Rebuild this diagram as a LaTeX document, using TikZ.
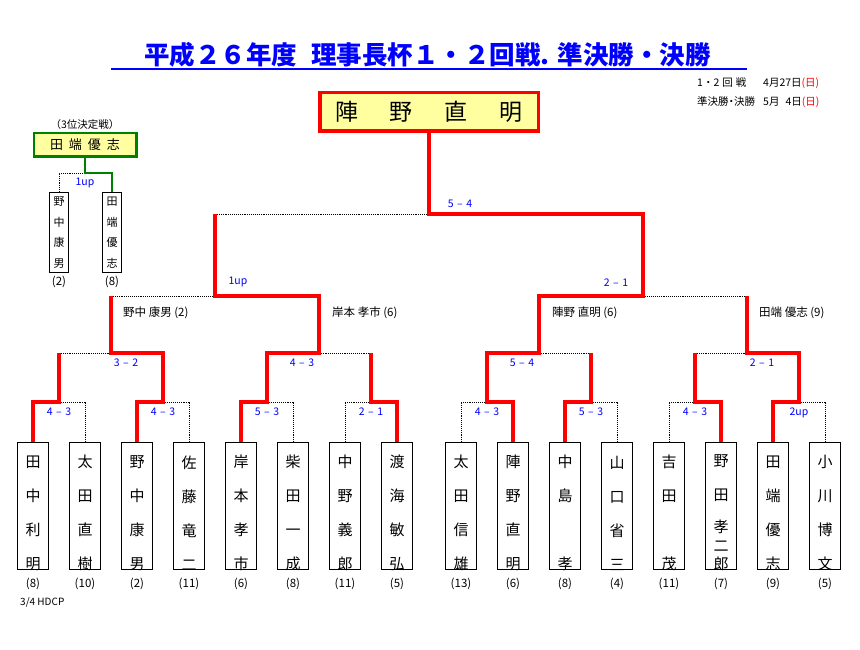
\documentclass[tikz,border=0pt]{standalone}
\usepackage{fontspec}
\setmainfont{Noto Sans CJK JP}
\usepackage{tikz}
\usetikzlibrary{positioning}

\definecolor{paley}{RGB}{255,255,160}
\definecolor{bgreen}{RGB}{0,128,0}
\definecolor{tblue}{RGB}{0,0,255}

\newcommand{\res}[2]{#1\hspace{3.5pt}--\hspace{3.5pt}#2}

\tikzset{
  basic/.style  = {draw, inner sep=0pt},
  pbox/.style   = {basic, line width=0.8pt, minimum width=31.2pt, minimum height=127.2pt},
  sbox/.style   = {basic, line width=0.8pt, minimum width=19.2pt, minimum height=80.2pt},
  pname/.style  = {font=\fontsize{15}{34}\selectfont, align=center, yshift=-7pt},
  sname/.style  = {font=\fontsize{11}{20.5}\selectfont, align=center},
  hc/.style     = {font=\fontsize{11.5}{13}\selectfont},
  win/.style    = {draw=red, line width=3.5pt},
  lose/.style   = {draw, densely dotted, line width=0.9pt},
  bronzeline/.style = {draw=bgreen, line width=2.5pt},
  score/.style  = {text=tblue, font=\fontsize{10.5}{12}\selectfont, inner sep=1pt},
  lname/.style  = {anchor=west, font=\fontsize{11.5}{13}\selectfont, inner sep=0pt},
  champ/.style  = {basic, draw=red, line width=3.5pt, fill=paley, minimum width=218.5pt,
                   minimum height=38.5pt, font=\fontsize{23}{26}\selectfont},
  bronze/.style = {basic, draw=bgreen, line width=2.5pt, fill=paley, minimum width=102.5pt,
                   minimum height=23.5pt, font=\fontsize{13}{16}\selectfont}
}

\begin{document}
\begin{tikzpicture}[x=1pt, y=-1pt]
\useasboundingbox (0,0) rectangle (860,650);

% title and dates
\node[text=tblue, font=\fontsize{25.5}{30}\selectfont\bfseries] (title) at (427.5,55)
  {平成２６年度\hspace{14pt}理事長杯１・２回戦.\hspace{8pt}準決勝・決勝};
\draw[tblue, line width=2pt] (111,69) -- (747,69);
\node[lname, font=\fontsize{10.5}{12}\selectfont] (d1) at (697,83)
  {\makebox[66pt][l]{1・2\hspace{3pt}回\hspace{3pt}戦}4月27日\textcolor{red}{(日)}};
\node[lname, font=\fontsize{10.5}{12}\selectfont] (d2) at (697,102)
  {\makebox[66pt][l]{準決勝\kern-2.5pt・\kern-2.5pt決勝}5月\hspace{6pt}4日\textcolor{red}{(日)}};

% champion and third place
\node[champ] (champ) at (429,112) {陣\hspace{32pt}野\hspace{32pt}直\hspace{32pt}明};
\node[bronze] (bronze) at (85,145) {田\hspace{6pt}端\hspace{6pt}優\hspace{6pt}志};
\node[above=1pt of bronze, font=\fontsize{10.5}{12}\selectfont, inner sep=1pt] (bt) {（3位決定戦）};

\node[sbox, label={[sname]center:{野\\中\\康\\男}}, label={[hc]below:(2)}] (t1) at (59,232.5) {};
\node[sbox, label={[sname]center:{田\\端\\優\\志}}, label={[hc]below:(8)}] (t2) at (112,232.5) {};
\coordinate (tm) at (85,173);

% the players, bottom row
\node[pbox, label={[pname]center:{田\\中\\利\\明}}, label={[hc,yshift=-5pt]below:(8)}] (p1) at (33,506) {};
\node[pbox, label={[pname]center:{太\\田\\直\\樹}}, label={[hc,yshift=-5pt]below:(10)}] (p2) at (85,506) {};
\node[pbox, label={[pname]center:{野\\中\\康\\男}}, label={[hc,yshift=-5pt]below:(2)}] (p3) at (137,506) {};
\node[pbox, label={[pname]center:{佐\\藤\\竜\\二}}, label={[hc,yshift=-5pt]below:(11)}] (p4) at (189,506) {};
\node[pbox, label={[pname]center:{岸\\本\\孝\\市}}, label={[hc,yshift=-5pt]below:(6)}] (p5) at (241,506) {};
\node[pbox, label={[pname]center:{柴\\田\\一\\成}}, label={[hc,yshift=-5pt]below:(8)}] (p6) at (293,506) {};
\node[pbox, label={[pname]center:{中\\野\\義\\郎}}, label={[hc,yshift=-5pt]below:(11)}] (p7) at (345,506) {};
\node[pbox, label={[pname]center:{渡\\海\\敏\\弘}}, label={[hc,yshift=-5pt]below:(5)}] (p8) at (397,506) {};
\node[pbox, label={[pname]center:{太\\田\\信\\雄}}, label={[hc,yshift=-5pt]below:(13)}] (p9) at (461,506) {};
\node[pbox, label={[pname]center:{陣\\野\\直\\明}}, label={[hc,yshift=-5pt]below:(6)}] (p10) at (513,506) {};
\node[pbox, label={[pname]center:{中\\島\\{}\\孝}}, label={[hc,yshift=-5pt]below:(8)}] (p11) at (565,506) {};
\node[pbox, label={[pname]center:{山\\口\\省\\三}}, label={[hc,yshift=-5pt]below:(4)}] (p12) at (617,506) {};
\node[pbox, label={[pname]center:{吉\\田\\{}\\茂}}, label={[hc,yshift=-5pt]below:(11)}] (p13) at (669,506) {};
\node[pbox, label={[pname]center:{野\\田\\[-2pt]孝\\[-15pt]二\\[-16pt]郎}}, label={[hc,yshift=-5pt]below:(7)}] (p14) at (721,506) {};
\node[pbox, label={[pname]center:{田\\端\\優\\志}}, label={[hc,yshift=-5pt]below:(9)}] (p15) at (773,506) {};
\node[pbox, label={[pname]center:{小\\川\\博\\文}}, label={[hc,yshift=-5pt]below:(5)}] (p16) at (825,506) {};
\node[lname, font=\fontsize{10}{12}\selectfont] (hdcp) at (20,602) {3/4 HDCP};

% meeting points of each round
\coordinate (m1) at (59,402);  \coordinate (m2) at (163,402);
\coordinate (m3) at (267,402); \coordinate (m4) at (371,402);
\coordinate (m5) at (487,402); \coordinate (m6) at (591,402);
\coordinate (m7) at (695,402); \coordinate (m8) at (799,402);
\coordinate (q1) at (111,353); \coordinate (q2) at (319,353);
\coordinate (q3) at (539,353); \coordinate (q4) at (747,353);
\coordinate (s1) at (215,296); \coordinate (s2) at (643,296);
\coordinate (fin) at (429,214);

% losers, dotted
\draw[lose] (p2.north) |- (m1);
\draw[lose] (p4.north) |- (m2);
\draw[lose] (p6.north) |- (m3);
\draw[lose] (p7.north) |- (m4);
\draw[lose] (p9.north) |- (m5);
\draw[lose] (p12.north) |- (m6);
\draw[lose] (p13.north) |- (m7);
\draw[lose] (p16.north) |- (m8);
\draw[lose] (m1 |- q1) -- (q1);
\draw[lose] (m4 |- q2) -- (q2);
\draw[lose] (m6 |- q3) -- (q3);
\draw[lose] (m7 |- q4) -- (q4);
\draw[lose] (q1 |- s1) -- (s1);
\draw[lose] (q4 |- s2) -- (s2);
\draw[lose] (s1 |- fin) -- (fin);
\draw[lose] (t1.north) |- (tm);

% winners, each path up to the round it lost
\draw[win] (p1.north) |- (m1) -- (m1 |- q1);
\draw[win] (p3.north) |- (m2) |- (q1) -- (q1 |- s1);
\draw[win] (p5.north) |- (m3) |- (q2) |- (s1) -- (s1 |- fin);
\draw[win] (p8.north) |- (m4) -- (m4 |- q2);
\draw[win] (p10.north) |- (m5) |- (q3) |- (s2) |- (fin) -- (champ.south);
\draw[win] (p11.north) |- (m6) -- (m6 |- q3);
\draw[win] (p14.north) |- (m7) -- (m7 |- q4);
\draw[win] (p15.north) |- (m8) |- (q4) -- (q4 |- s2);
\draw[bronzeline] (t2.north) |- (tm) -- (bronze.south);

% scores
\node[score, below=5pt of m1] {\res43};
\node[score, below=5pt of m2] {\res43};
\node[score, below=5pt of m3] {\res53};
\node[score, below=5pt of m4] {\res21};
\node[score, below=5pt of m5] {\res43};
\node[score, below=5pt of m6] {\res53};
\node[score, below=5pt of m7] {\res43};
\node[score, below=5pt of m8] {2up};
\node[score, below=5pt of q1, xshift=15pt] {\res32};
\node[score, below=5pt of q2, xshift=-17pt] {\res43};
\node[score, below=5pt of q3, xshift=-17pt] {\res54};
\node[score, below=5pt of q4, xshift=15pt] {\res21};
\node[score, above=8pt of s1, xshift=23pt] {1up};
\node[score, above=8pt of s2, xshift=-27pt] {\res21};
\node[score, above=5pt of fin, xshift=31pt] {\res54};
\node[score, below=4pt of tm] {1up};

% semi final names
\node[lname] (n1) at (123,313) {野中 康男 (2)};
\node[lname] (n2) at (332,313) {岸本 孝市 (6)};
\node[lname] (n3) at (552,313) {陣野 直明 (6)};
\node[lname] (n4) at (759,313) {田端 優志 (9)};

\end{tikzpicture}
\end{document}
